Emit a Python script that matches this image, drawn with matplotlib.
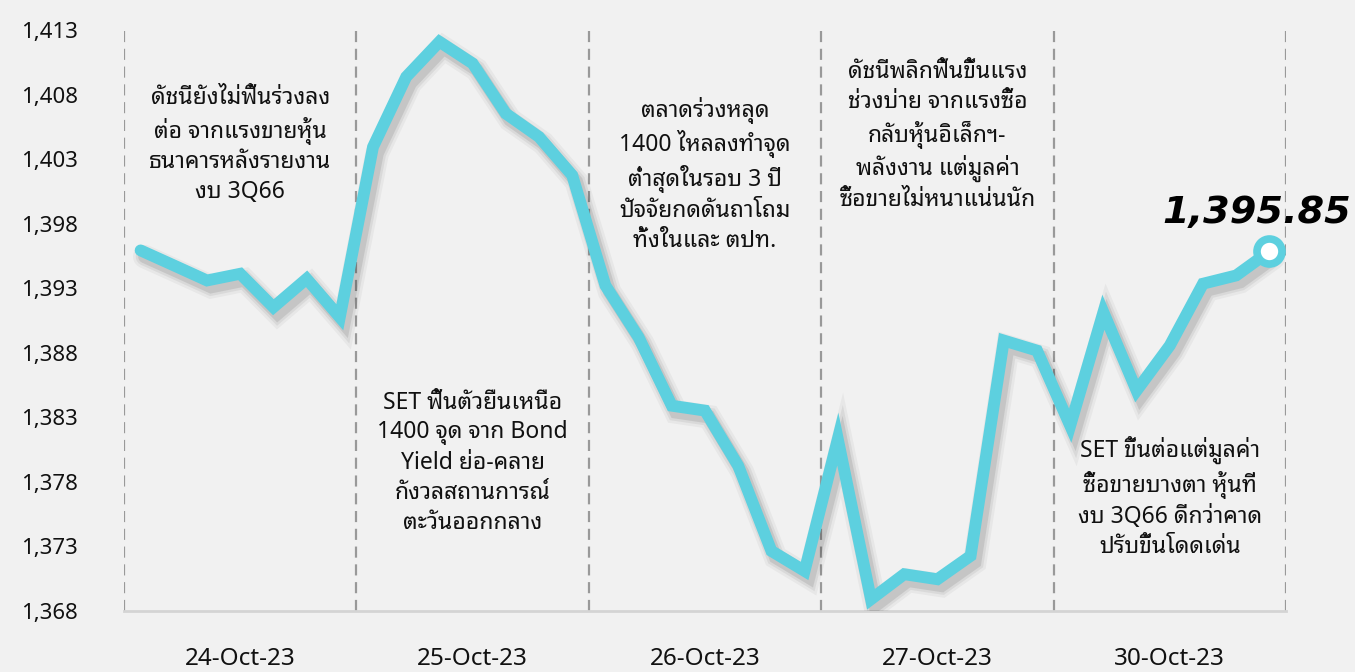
import matplotlib
matplotlib.use("Agg")
import matplotlib.pyplot as plt
import matplotlib.patheffects as pe
from matplotlib import font_manager as fm
import numpy as np

# ---------------- data ----------------
days = ["24-Oct-23", "25-Oct-23", "26-Oct-23", "27-Oct-23", "30-Oct-23"]
points_per_day = 7
set_index = [
    1395.93, 1394.77, 1393.60, 1394.12, 1391.53, 1393.73, 1390.75,
    1403.94, 1409.37, 1412.09, 1410.41, 1406.53, 1404.72, 1401.75,
    1393.21, 1389.20, 1383.90, 1383.52, 1379.25, 1372.65, 1371.10,
    1381.32, 1368.91, 1370.85, 1370.46, 1372.27, 1388.95, 1388.17,
    1382.35, 1391.14, 1385.07, 1388.56, 1393.35, 1393.99, 1395.85,
]
last_label = "1,395.85"
y_ticks = [1368, 1373, 1378, 1383, 1388, 1393, 1398, 1403, 1408, 1413]
y_tick_labels = ["1,368", "1,373", "1,378", "1,383", "1,388",
                 "1,393", "1,398", "1,403", "1,408", "1,413"]
notes = [
    "ดัชนียังไม่ฟื้นร่วงลง\nต่อ จากแรงขายหุ้น\nธนาคารหลังรายงาน\nงบ 3Q66",
    "SET ฟื้นตัวยืนเหนือ\n1400 จุด จาก Bond\nYield ย่อ-คลาย\nกังวลสถานการณ์\nตะวันออกกลาง",
    "ตลาดร่วงหลุด\n1400 ไหลลงทำจุด\nต่ำสุดในรอบ 3 ปี\nปัจจัยกดดันถาโถม\nทั้งในและ ตปท.",
    "ดัชนีพลิกฟื้นขึ้นแรง\nช่วงบ่าย จากแรงซื้อ\nกลับหุ้นอิเล็กฯ-\nพลังงาน แต่มูลค่า\nซื้อขายไม่หนาแน่นนัก",
    "SET ขึ้นต่อแต่มูลค่า\nซื้อขายบางตา หุ้นที่\nงบ 3Q66 ดีกว่าคาด\nปรับขึ้นโดดเด่น",
]
note_y = [1404.1, 1379.5, 1401.8, 1404.8, 1376.8]   # vertical centre of each note (data units)

# ---------------- fonts ----------------
thai_font = None
try:
    from fontTools.ttLib import TTFont
    cands = []
    for f in fm.fontManager.ttflist:
        try:
            tt = TTFont(f.fname, fontNumber=0, lazy=True)
            cmap = tt.getBestCmap()
            if cmap and 0x0E14 in cmap and 0x0E31 in cmap and 0x0041 in cmap:
                cands.append(f.name)
        except Exception:
            pass
    pref = [n for n in cands if "Noto Sans Thai" in n] + cands
    if pref:
        thai_font = pref[0]
except Exception:
    pass
fam = ([thai_font] if thai_font else []) + ["DejaVu Sans"]
plt.rcParams["font.family"] = fam

# ---------------- figure ----------------
W, H = 1355, 672
fig = plt.figure(figsize=(W / 100, H / 100), dpi=100, facecolor="#f1f1f1")
ax = fig.add_axes([124 / W, 1 - 611 / H, (1286 - 124) / W, (611 - 30) / H])
ax.set_facecolor("#f1f1f1")

n = len(set_index)
x = np.arange(n)
ax.set_xlim(-0.5, n - 0.5)
ax.set_ylim(1368, 1413)

# group separators
for k in range(len(days) + 1):
    ax.axvline(k * points_per_day - 0.5, color="#999999", lw=1.6,
               ls=(0, (5, 3)), zorder=1)

line_color = "#5dd0df"
shadow = [
    pe.SimpleLineShadow(offset=(3, -4.5), shadow_color="black", alpha=0.04, linewidth=17),
    pe.SimpleLineShadow(offset=(3, -4.5), shadow_color="black", alpha=0.06, linewidth=13),
    pe.SimpleLineShadow(offset=(3, -4.5), shadow_color="black", alpha=0.09, linewidth=9.5),
    pe.Normal(),
]
ax.plot(x, set_index, color=line_color, lw=8.5, solid_joinstyle="miter",
        solid_capstyle="round", zorder=3, path_effects=shadow)
ax.plot(x[-1], set_index[-1], "o", ms=18, mfc="white", mec=line_color,
        mew=5.5, zorder=4)
ax.annotate(last_label, (x[-1], set_index[-1]), xytext=(-9, 15),
            textcoords="offset points", ha="center", va="bottom",
            fontsize=27.5, fontweight="bold", fontstyle="italic",
            family="DejaVu Sans", color="black", zorder=5, annotation_clip=False)

# notes
for k, (txt, yc) in enumerate(zip(notes, note_y)):
    ax.text(k * points_per_day + 3, yc, txt, ha="center", va="center",
            fontsize=16.5, linespacing=1.32, color="#111111", family=fam, zorder=2)

# axes styling
for s in ["top", "right", "left"]:
    ax.spines[s].set_visible(False)
ax.spines["bottom"].set_color("#d4d4d4")
ax.spines["bottom"].set_linewidth(2)
ax.set_yticks(y_ticks)
ax.set_yticklabels(y_tick_labels)
ax.tick_params(axis="y", length=0, pad=33, labelsize=16, labelcolor="#111111")
ax.set_xticks([k * points_per_day + 3 for k in range(len(days))])
ax.set_xticklabels(days)
ax.tick_params(axis="x", length=0, pad=26, labelsize=17.5, labelcolor="#111111")

fig.savefig("out.png", dpi=100, facecolor=fig.get_facecolor())
